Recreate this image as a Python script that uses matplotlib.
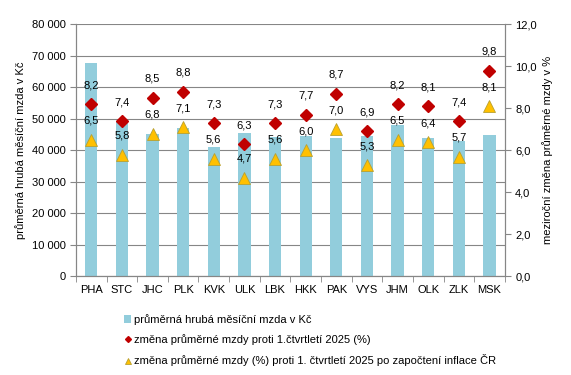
import matplotlib
matplotlib.use("Agg")
import matplotlib.pyplot as plt
from matplotlib.ticker import FuncFormatter, MultipleLocator
import numpy as np

plt.rcParams['font.family'] = ['Liberation Sans', 'DejaVu Sans']

regions = ["PHA", "STC", "JHC", "PLK", "KVK", "ULK", "LBK", "HKK", "PAK", "VYS", "JHM", "OLK", "ZLK", "MSK"]
wage = [67800, 49300, 45300, 47100, 41000, 45500, 44400, 44700, 44000, 44700, 48200, 43900, 43000, 45000]
change_nominal = [8.2, 7.4, 8.5, 8.8, 7.3, 6.3, 7.3, 7.7, 8.7, 6.9, 8.2, 8.1, 7.4, 9.8]
change_real = [6.5, 5.8, 6.8, 7.1, 5.6, 4.7, 5.6, 6.0, 7.0, 5.3, 6.5, 6.4, 5.7, 8.1]

label_bar = "průměrná hrubá měsíční mzda v Kč"
label_nom = "změna průměrné mzdy proti 1.čtvrtletí 2025 (%)"
label_real = "změna průměrné mzdy (%) proti 1. čtvrtletí 2025 po započtení inflace ČR"

fig = plt.figure(figsize=(5.71, 3.75), dpi=100)
ax = fig.add_axes([0.133, 0.263, 0.751, 0.672])
ax2 = ax.twinx()

x = np.arange(len(regions))
grid_c = "#868686"
bars = ax.bar(x, wage, width=0.4, color="#92CDDC", zorder=2, label=label_bar)
ax.set_ylim(0, 80000)
ax.set_xlim(-0.5, len(regions) - 0.5)
ax.yaxis.set_major_locator(MultipleLocator(10000))
ax.yaxis.set_major_formatter(FuncFormatter(lambda v, p: f"{int(v):,}".replace(",", " ")))
ax.grid(axis='y', color=grid_c, linewidth=0.8, zorder=0)
ax.set_axisbelow(True)
ax.set_xticks(x)
ax.set_xticklabels(regions)
ax.set_xticks(np.arange(-0.5, len(regions)), minor=True)
ax.tick_params(axis='x', which='major', length=0, labelsize=8, pad=6)
ax.tick_params(axis='x', which='minor', length=4, color=grid_c, direction='out')
ax.tick_params(axis='y', labelsize=8, length=4, color=grid_c)
ax.set_ylabel(label_bar, fontsize=8)

ax2.set_ylim(0, 12)
ax2.yaxis.set_major_locator(MultipleLocator(2))
ax2.yaxis.set_major_formatter(FuncFormatter(lambda v, p: f"{v:.1f}".replace(".", ",")))
ax2.tick_params(axis='y', labelsize=8, length=4, color=grid_c)
ax2.set_ylabel(label_nom.replace(label_nom, "meziroční změna průměrné mzdy v %"), fontsize=8)

ax2.plot(x, change_nominal, linestyle='none', marker='D', markersize=6, color="#C00000",
         markeredgecolor="#C00000", label=label_nom, zorder=4)
ax2.plot(x, change_real, linestyle='none', marker='^', markersize=8, color="#FFC000",
         markeredgecolor="#B8A030", markeredgewidth=0.6, label=label_real, zorder=4)
for xi, v in zip(x, change_nominal):
    ax2.annotate(f"{v:.1f}".replace(".", ","), (xi, v), xytext=(0, 10), textcoords='offset points',
                 ha='center', va='bottom', fontsize=8)
for xi, v in zip(x, change_real):
    ax2.annotate(f"{v:.1f}".replace(".", ","), (xi, v), xytext=(0, 10), textcoords='offset points',
                 ha='center', va='bottom', fontsize=8)

for a in (ax, ax2):
    for s in ['top']:
        a.spines[s].set_visible(False)
    for s in ['left', 'right', 'bottom']:
        a.spines[s].set_color(grid_c)

ax.set_zorder(ax2.get_zorder() - 1) if False else None

handles = [bars, ax2.lines[0], ax2.lines[1]]
leg = fig.legend(handles, [label_bar, label_nom, label_real], loc='upper left',
                 bbox_to_anchor=(0.21, 0.175), frameon=False, fontsize=8,
                 handlelength=0.6, handletextpad=0.3, labelspacing=0.85, borderaxespad=0,
                 markerscale=0.5)
fig.savefig("out.png", dpi=100)
